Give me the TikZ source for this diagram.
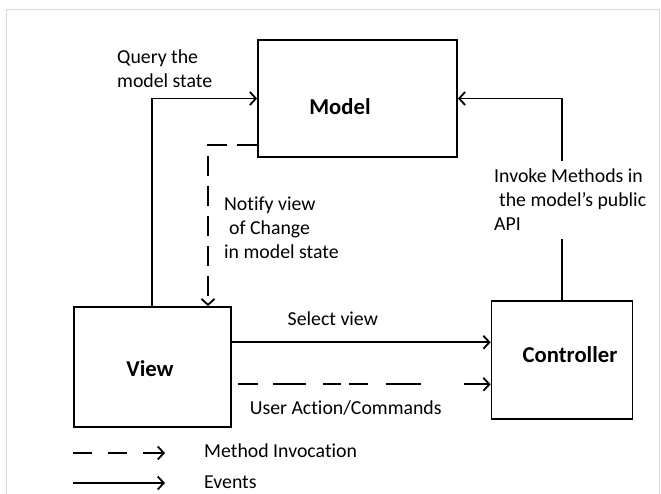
\documentclass[tikz,border=0pt]{standalone}
\usepackage{fontspec}
\setmainfont{Carlito}[Ligatures=NoCommon]
\usetikzlibrary{arrows.meta,positioning,calc}
\tikzset{
    box/.style={rectangle, draw, line width=1.8pt, inner sep=0pt},
    title/.style={font=\fontsize{22.7}{26}\selectfont\bfseries},
    note/.style={align=left, inner sep=0pt, font=\fontsize{19.8}{24}\selectfont},
    event/.style={-{Straight Barb[length=6pt,width=13pt,line width=1.8pt]}, line width=1.8pt},
    invoke/.style={event, dash pattern=on 20pt off 10pt}
}

\begin{document}
\begin{tikzpicture}[x=1pt, y=-1pt]
\useasboundingbox (0,0) rectangle (661,494);

% Frame
\draw[black!15, line width=1.2pt] (6.5,494) -- (6.5,9.5) -- (659.5,9.5) -- (659.5,494);

% Boxes
\node[box, minimum width=199pt, minimum height=117pt] (model) at (357.5,98.5) {};
\node[box, minimum width=157pt, minimum height=120pt] (view) at (152.5,367) {};
\node[box, minimum width=141pt, minimum height=118.5pt] (controller) at (562,360) {};

\node[title] (modeltxt) at (340,107) {Model};
\node[title] (viewtxt) at (150,369) {View};
\node[title] (controllertxt) at (570,355) {Controller};

% View <-> Model
\draw[event] ($(view.north)+(-0.8,0)$) |- (model.west);
\node[note, anchor=west] (querytxt) at (117,69) {Query the\\model state};
\draw[invoke] ($(model.west)+(0,46.5)$) -| ($(view.north)+(55.5,0)$);
\node[note, anchor=west] (notifytxt) at (224,228) {Notify view\\\hspace{0.25em}of Change\\in model state};

% Controller -> Model
\node[note, anchor=west, inner ysep=8pt] (apitxt) at (494,200) {Invoke Methods in\\\hspace{0.25em}the model’s public\\API};
\draw[line width=1.8pt] (controller.north) -- (controller.north |- apitxt.south);
\draw[event] (controller.north |- apitxt.north) |- (model.east);

% View -> Controller
\coordinate (sel) at ($(view.east)+(0,-24.7)$);
\coordinate (usr) at ($(view.east)+(0,17.3)$);
\draw[event] (sel) -- node[note, above=16pt, pos=0.39] (seltxt) {Select view} (sel -| controller.west);
\draw[invoke, shorten <=6pt, dash pattern=on 20pt off 15pt on 33pt off 17pt on 18pt off 8pt on 19pt off 18pt on 35pt off 43pt on 40pt]
    (usr) -- node[note, below=16pt, pos=0.44] (usrtxt) {User Action/Commands} (usr -| controller.west);

% Legend
\coordinate (mi) at (73,453);
\coordinate (mie) at (165,453);
\coordinate (ev) at (73,483);
\coordinate (eve) at (165,483);
\draw[invoke, dash pattern=on 19pt off 16pt] (mi) -- (mie);
\draw[event] (ev) -- (eve);
\node[note, anchor=west] (mitxt) at (204,451) {Method Invocation};
\node[note, anchor=west] (evtxt) at (204,482) {Events};

\end{tikzpicture}
\end{document}
